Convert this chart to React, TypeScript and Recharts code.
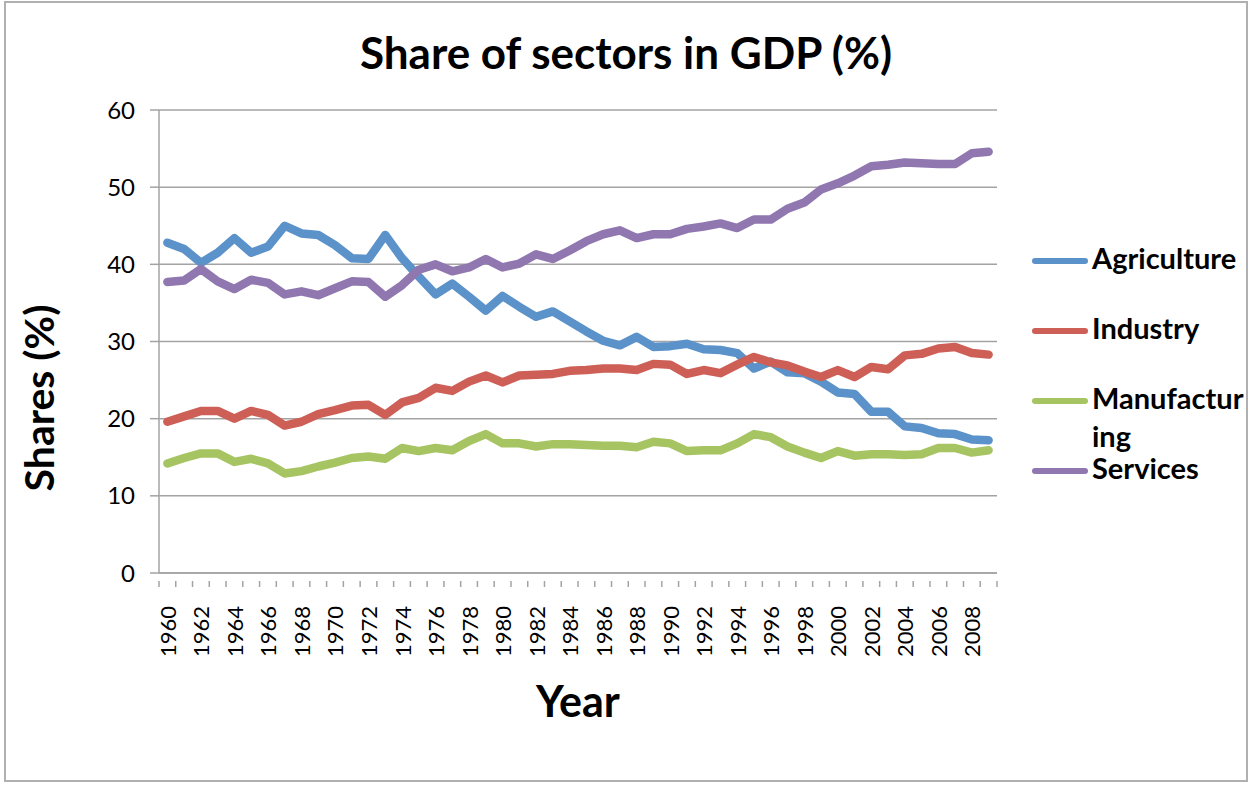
import React from 'react';
import { LineChart, Line, XAxis, YAxis, CartesianGrid, Legend, Label } from 'recharts';

const years = [
  1960, 1961, 1962, 1963, 1964, 1965, 1966, 1967, 1968, 1969,
  1970, 1971, 1972, 1973, 1974, 1975, 1976, 1977, 1978, 1979,
  1980, 1981, 1982, 1983, 1984, 1985, 1986, 1987, 1988, 1989,
  1990, 1991, 1992, 1993, 1994, 1995, 1996, 1997, 1998, 1999,
  2000, 2001, 2002, 2003, 2004, 2005, 2006, 2007, 2008, 2009,
];

const agriculture = [
  42.8, 42.0, 40.2, 41.5, 43.4, 41.5, 42.3, 45.0, 44.0, 43.8,
  42.5, 40.8, 40.7, 43.8, 40.8, 38.4, 36.1, 37.5, 35.8, 34.0,
  35.9, 34.5, 33.2, 33.9, 32.6, 31.3, 30.1, 29.5, 30.6, 29.3,
  29.4, 29.7, 29.0, 28.9, 28.5, 26.5, 27.4, 26.0, 25.9, 24.8,
  23.4, 23.2, 20.9, 20.9, 19.0, 18.8, 18.1, 18.0, 17.3, 17.2,
];

const industry = [
  19.6, 20.3, 21.0, 21.0, 20.0, 21.0, 20.5, 19.1, 19.6, 20.6,
  21.1, 21.7, 21.8, 20.5, 22.1, 22.7, 24.0, 23.6, 24.8, 25.6,
  24.7, 25.6, 25.7, 25.8, 26.2, 26.3, 26.5, 26.5, 26.3, 27.1,
  27.0, 25.8, 26.3, 25.9, 27.0, 28.0, 27.3, 26.9, 26.1, 25.4,
  26.3, 25.4, 26.7, 26.4, 28.2, 28.4, 29.1, 29.3, 28.5, 28.3,
];

const manufacturing = [
  14.2, 14.9, 15.5, 15.5, 14.4, 14.8, 14.2, 12.9, 13.2, 13.8,
  14.3, 14.9, 15.1, 14.8, 16.2, 15.8, 16.2, 15.9, 17.1, 18.0,
  16.8, 16.8, 16.4, 16.7, 16.7, 16.6, 16.5, 16.5, 16.3, 17.0,
  16.8, 15.8, 15.9, 15.9, 16.8, 18.0, 17.6, 16.4, 15.6, 14.9,
  15.8, 15.2, 15.4, 15.4, 15.3, 15.4, 16.2, 16.2, 15.6, 15.9,
];

const services = [
  37.7, 37.9, 39.4, 37.8, 36.8, 38.0, 37.6, 36.1, 36.5, 36.0,
  36.9, 37.8, 37.7, 35.8, 37.3, 39.3, 40.0, 39.1, 39.6, 40.7,
  39.6, 40.1, 41.3, 40.7, 41.8, 43.0, 43.9, 44.4, 43.4, 43.9,
  43.9, 44.6, 44.9, 45.3, 44.7, 45.8, 45.8, 47.2, 48.0, 49.7,
  50.5, 51.5, 52.7, 52.9, 53.2, 53.1, 53.0, 53.0, 54.4, 54.6,
];

const yTicks = [0, 10, 20, 30, 40, 50, 60];

const series = [
  { key: 'Agriculture', label: ['Agriculture'], color: '#5B92C9', values: agriculture },
  { key: 'Industry', label: ['Industry'], color: '#CD5F57', values: industry },
  { key: 'Manufacturing', label: ['Manufactur', 'ing'], color: '#A7C462', values: manufacturing },
  { key: 'Services', label: ['Services'], color: '#9077AF', values: services },
];

const data = years.map((year, i) => {
  const row: any = { year: String(year) };
  series.forEach(s => { row[s.key] = s.values[i]; });
  return row;
});

const FONT = 'Lato, "Open Sans", sans-serif';
const GRID = '#A3A3A3';
const HALF_BAND = 8.38;

const YearTick = (props: any) => {
  const { x, y, payload, index } = props;
  const i = index ?? payload.index;
  return (
    <g>
      <line x1={x - HALF_BAND} y1={y} x2={x - HALF_BAND} y2={y + 6} stroke={GRID} strokeWidth={1.5} />
      {i === years.length - 1 && (
        <line x1={x + HALF_BAND} y1={y} x2={x + HALF_BAND} y2={y + 6} stroke={GRID} strokeWidth={1.5} />
      )}
      {i % 2 === 0 && (
        <text
          x={x}
          y={y + 25}
          transform={`rotate(-90 ${x} ${y + 25})`}
          textAnchor="end"
          dominantBaseline="central"
          fontSize={22}
          fontFamily={FONT}
          fill="#000"
        >
          {payload.value}
        </text>
      )}
    </g>
  );
};

const SectorLegend = () => (
  <div style={{ fontFamily: FONT, fontWeight: 700, fontSize: 29, color: '#000' }}>
    {series.map(s => (
      <div key={s.key} style={{ display: 'flex', alignItems: 'flex-start', height: 70 }}>
        <div style={{ width: 56, height: 6, borderRadius: 3, background: s.color, marginTop: 16, marginRight: 4 }} />
        <div style={{ lineHeight: '38px', marginTop: -3 }}>
          {s.label.map((t, j) => <div key={j}>{t}</div>)}
        </div>
      </div>
    ))}
  </div>
);

export default function App() {
  return (
    <div style={{ position: 'absolute', left: 0, top: 0, width: 1252, height: 786, background: '#fff' }}>
      <div
        style={{
          position: 'absolute', left: 4, top: 1, width: 1244, height: 781,
          border: '2px solid #B0B0B0', boxSizing: 'border-box',
        }}
      />
      <div
        style={{
          position: 'absolute', left: 0, top: 26, width: 1252, textAlign: 'center',
          fontFamily: FONT, fontWeight: 700, fontSize: 44, color: '#000',
        }}
      >
        Share of sectors in GDP (%)
      </div>
      <LineChart
        width={1252}
        height={786}
        data={data}
        margin={{ top: 110, right: 255, bottom: 83, left: 0 }}
        style={{ position: 'absolute', left: 0, top: 0 }}
      >
        <CartesianGrid vertical={false} stroke={GRID} strokeWidth={1.5} />
        <XAxis
          dataKey="year"
          interval={0}
          height={130}
          padding={{ left: HALF_BAND, right: HALF_BAND }}
          tickLine={false}
          axisLine={{ stroke: GRID, strokeWidth: 1.5 }}
          tick={<YearTick />}
        >
          <Label
            content={() => (
              <text x={578} y={700} textAnchor="middle" dominantBaseline="central"
                fontFamily={FONT} fontWeight={700} fontSize={43} fill="#000">
                Year
              </text>
            )}
          />
        </XAxis>
        <YAxis
          width={159}
          domain={[0, 60]}
          ticks={yTicks}
          interval={0}
          tickSize={9}
          tickMargin={15}
          tickLine={{ stroke: GRID, strokeWidth: 1.5 }}
          axisLine={{ stroke: GRID, strokeWidth: 1.5 }}
          tick={{ fontSize: 24, fontFamily: FONT, fill: '#000' }}
        >
          <Label
            content={() => (
              <text x={38} y={398} transform="rotate(-90 38 398)" textAnchor="middle" dominantBaseline="central"
                fontFamily={FONT} fontWeight={700} fontSize={41} fill="#000">
                Shares (%)
              </text>
            )}
          />
        </YAxis>
        <Legend
          layout="vertical"
          align="center"
          verticalAlign="middle"
          content={<SectorLegend />}
          wrapperStyle={{ position: 'absolute', left: 1032, top: 242, width: 218 }}
        />
        {series.map(s => (
          <Line
            key={s.key}
            type="linear"
            dataKey={s.key}
            stroke={s.color}
            strokeWidth={8.5}
            strokeLinecap="round"
            strokeLinejoin="round"
            dot={false}
            activeDot={false}
            isAnimationActive={false}
          />
        ))}
      </LineChart>
    </div>
  );
}
